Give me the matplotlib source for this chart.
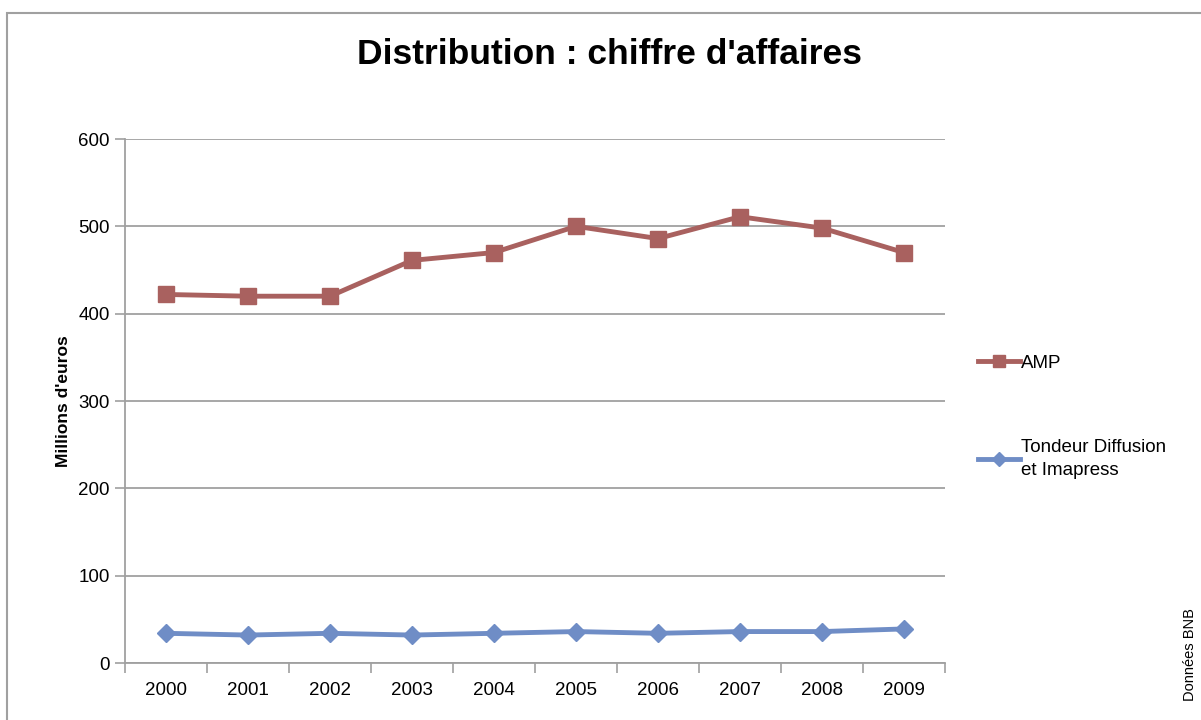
import matplotlib.pyplot as plt
from matplotlib.patches import Rectangle

plt.rcParams['font.family'] = ['Liberation Sans', 'DejaVu Sans']

years = ['2000', '2001', '2002', '2003', '2004', '2005', '2006', '2007', '2008', '2009']
amp = [422, 420, 420, 461, 470, 500, 486, 511, 498, 470]
tondeur = [34, 32, 34, 32, 34, 36, 34, 36, 36, 39]
y_ticks = [0, 100, 200, 300, 400, 500, 600]

red = '#A9615F'
blue = '#6F8DC6'
grey = '#A0A0A0'

fig = plt.figure(figsize=(12.01, 7.2), dpi=100)
fig.patches.append(Rectangle((7 / 1201, -0.1), 1.2, (720 - 13) / 720 + 0.1,
                             transform=fig.transFigure, fill=False,
                             edgecolor=grey, linewidth=1.5))

ax = fig.add_axes([125 / 1201, 57 / 720, 820 / 1201, 524 / 720])
x = list(range(len(years)))
ax.plot(x, amp, color=red, linewidth=3.5, marker='s', markersize=12, label='AMP')
ax.plot(x, tondeur, color=blue, linewidth=3.5, marker='D', markersize=9,
        label='Tondeur Diffusion\net Imapress')

ax.set_xlim(-0.5, 9.5)
ax.set_ylim(0, 600)
ax.set_yticks(y_ticks)
ax.set_xticks([i - 0.5 for i in range(len(years) + 1)], minor=False)
ax.set_xticklabels([])
ax.set_xticks(x, minor=True)
ax.set_xticklabels(years, minor=True)
ax.tick_params(axis='x', which='minor', length=0, pad=14, labelsize=13.5)
ax.tick_params(axis='x', which='major', length=7, color=grey, width=1.2)
ax.tick_params(axis='y', length=7, color=grey, width=1.2, labelsize=13.5, pad=4)
ax.yaxis.grid(True, color=grey, linewidth=1.3)
ax.set_axisbelow(True)
for s in ['top', 'right']:
    ax.spines[s].set_visible(False)
for s in ['left', 'bottom']:
    ax.spines[s].set_color(grey)
    ax.spines[s].set_linewidth(1.3)

ax.set_ylabel("Millions d'euros", fontsize=12.5, fontweight='bold', labelpad=5)
fig.text(0.5075, 1 - 55 / 720, "Distribution : chiffre d'affaires", fontsize=25.5,
         fontweight='bold', ha='center', va='center')

leg = ax.legend(loc='center left', bbox_to_anchor=(1.02, 0.47), frameon=False,
                fontsize=13.5, handlelength=2.2, handletextpad=0.1, labelspacing=3.6,
                markerscale=0.75)
for t in leg.get_texts():
    t.set_linespacing(1.45)

fig.text(1190 / 1201, 1 - 655 / 720, 'Données BNB', rotation=90, fontsize=10.5,
         ha='center', va='center')

fig.savefig('out.png', dpi=100)
